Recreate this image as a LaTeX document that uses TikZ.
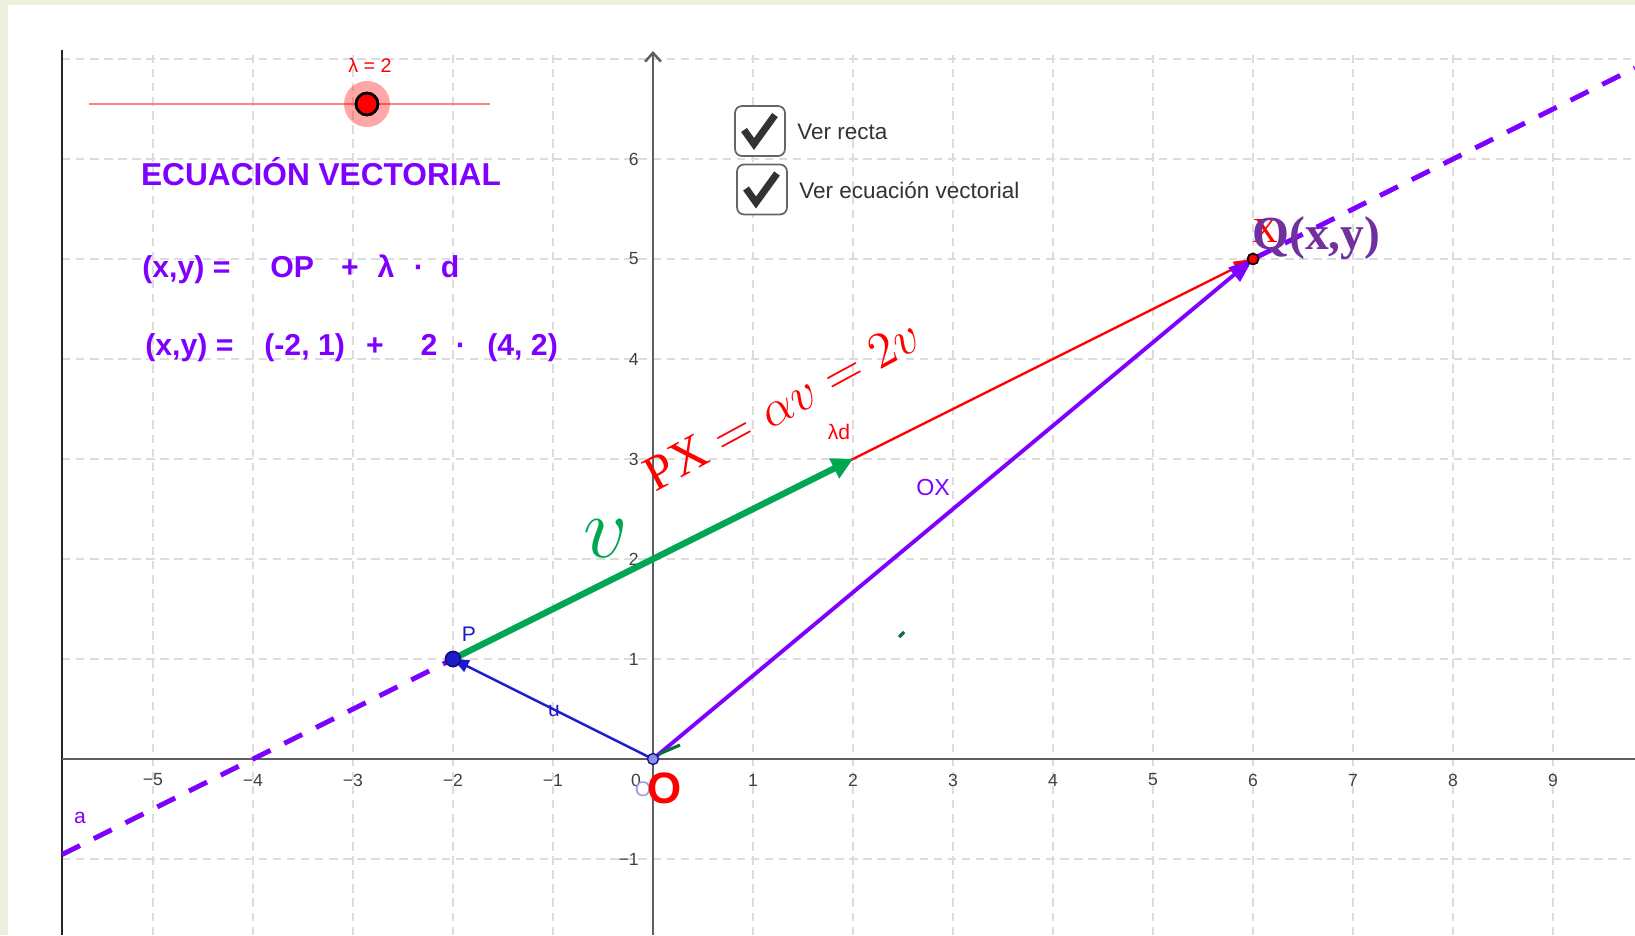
\documentclass[tikz,border=0pt]{standalone}
\usepackage{fontspec}
\setmainfont{Liberation Sans}
\newfontfamily\serifQ{Liberation Serif}
\usetikzlibrary{arrows.meta}

\definecolor{ggbviolet}{RGB}{127,0,255}
\definecolor{ggbblue}{RGB}{28,28,205}
\definecolor{ggbgreen}{RGB}{0,166,80}
\definecolor{ggbred}{RGB}{255,0,0}
\definecolor{qpurple}{RGB}{112,48,160}
\definecolor{axisgray}{RGB}{95,95,95}
\definecolor{gridgray}{RGB}{220,220,220}
\definecolor{framegreen}{RGB}{236,241,222}
\definecolor{sliderred}{RGB}{255,130,130}

\tikzset{every picture/.style={line width=0.75pt}}
\tikzset{
  gridline/.style={draw=gridgray, line width=0.45pt, dash pattern=on 2.4pt off 1.6pt},
  axisline/.style={draw=axisgray, line width=0.7pt},
  ticklbl/.style={inner sep=0pt, text=black!75, font=\fontsize{5}{6}\selectfont},
  eqtext/.style={inner sep=0pt, anchor=base, text=ggbviolet, font=\fontsize{8.6}{10}\selectfont\bfseries},
  chkbox/.style={draw=black!60, line width=0.5pt, fill=white, rounded corners=2pt, minimum size=0.5cm, inner sep=0pt},
  chkmark/.style={draw=black!80, line width=2pt, line join=miter},
  chklbl/.style={anchor=west, inner sep=0pt, text=black!80, font=\fontsize{6.4}{7.5}\selectfont},
  ptlbl/.style={inner sep=0pt, font=\fontsize{6}{7}\selectfont},
  linea/.style={ggbviolet, line width=1.4pt, dash pattern=on 5.7pt off 4.4pt},
}

\begin{document}
\begin{tikzpicture}[x=1cm,y=1cm]
\useasboundingbox (-6.53,-1.76) rectangle (9.82,7.59);

%Shape: Frame
\fill[framegreen] (-6.53,-1.76) rectangle (9.82,7.59);
\fill[white] (-6.45,-1.76) rectangle (9.82,7.54);

%Grid
\draw[gridline] (-5.91,-1.76) grid (9.82,7.09);

%Straight Lines: view border and axes
\draw[draw=black!85, line width=0.6pt] (-5.91,-1.76) -- (-5.91,7.09);
\draw[axisline] (-5.91,0) -- (9.82,0);
\draw[axisline, -{Straight Barb[length=2.5pt,width=4.5pt]}] (0,-1.76) -- (0,7.08);

% Tick labels
\foreach \x in {1,...,5} \node[ticklbl] (xm\x) at (-\x,-0.21) {−\x};
\foreach \x in {1,...,9} \node[ticklbl] (xp\x) at (\x,-0.21) {\x};
\node[ticklbl] (xz) at (-0.17,-0.21) {0};
\foreach \y in {1,...,6} \node[ticklbl, anchor=east] (yp\y) at (-0.13,\y) {\y};
\node[ticklbl, anchor=east] (ym1) at (-0.13,-1) {−1};

% Points
\coordinate (O) at (0,0);
\coordinate (P) at (-2,1);
\coordinate (L) at (2,3);
\coordinate (Q) at (6,5);
\coordinate (aL) at (-5.91,-0.955);
\coordinate (aR) at (9.82,6.91);

%Straight Lines: line a
\draw[linea] (aL) -- (P);
\draw[linea] (Q) -- (aR);

%Vectors
\draw[ggbred, line width=0.65pt, -{Triangle[length=5.5pt,width=3.6pt]}] (P) -- (Q);
\draw[ggbviolet, line width=1.1pt, -{Triangle[length=7pt,width=5pt]}] (O) -- (Q);
\draw[ggbblue, line width=0.7pt, -{Triangle[length=4.5pt,width=3.6pt]}] (O) -- (P);
\draw[ggbgreen, line width=1.8pt, -{Triangle[length=6pt,width=6pt]}] (P) -- (L);

% small green marks
\draw[ggbgreen!70!black, line width=0.9pt] (0.06,0.05) -- (0.27,0.14);
\draw[ggbgreen!70!black, line width=0.9pt] (2.46,1.22) -- (2.51,1.27);

% Point markers
\fill[ggbblue, draw=ggbblue!60!black, line width=0.5pt] (P) circle (0.075);
\fill[ggbblue!50!white, draw=ggbblue!70!black, line width=0.4pt] (O) circle (0.055);
\fill[ggbred, draw=black, line width=0.5pt] (Q) circle (0.055);

% Slider
\draw[sliderred, line width=0.5pt] (-5.64,6.55) -- (-1.63,6.55);
\fill[ggbred, opacity=0.35] (-2.86,6.55) circle (0.23);
\fill[ggbred, draw=black, line width=0.8pt] (-2.86,6.55) circle (0.11);
\node[inner sep=0pt, text=ggbred, font=\fontsize{5.6}{7}\selectfont] (lamlbl) at (-2.83,6.94) {λ = 2};

% Text Node
\node[inner sep=0pt, text=ggbviolet, font=\fontsize{9}{11}\selectfont\bfseries] (title) at (-3.32,5.87) {ECUACIÓN VECTORIAL};

% Equation one
\node[eqtext, anchor=base west] (eqa) at (-5.12,4.81) {(x,y) =};
\node[eqtext, anchor=base west] (eqb) at (-3.84,4.81) {OP};
\node[eqtext] (eqc) at (-3.03,4.81) {+};
\node[eqtext] (eqd) at (-2.67,4.81) {λ};
\node[eqtext] (eqe) at (-2.34,4.81) {·};
\node[eqtext] (eqf) at (-2.03,4.81) {d};
% Equation two
\node[eqtext, anchor=base west] (eqg) at (-5.09,4.03) {(x,y) =};
\node[eqtext, anchor=base west] (eqh) at (-3.90,4.03) {(-2, 1)};
\node[eqtext] (eqi) at (-2.78,4.03) {+};
\node[eqtext] (eqj) at (-2.24,4.03) {2};
\node[eqtext] (eqk) at (-1.92,4.03) {·};
\node[eqtext, anchor=base west] (eql) at (-1.67,4.03) {(4, 2)};

% Check boxes
\node[chkbox] (chka) at (1.07,6.28) {};
\draw[chkmark, shift={(chka.center)}] (-0.16,0.01) -- (-0.06,-0.13) -- (0.15,0.16);
\node[chklbl] (chkalbl) at (1.43,6.27) {Ver recta};
\node[chkbox] (chkb) at (1.09,5.695) {};
\draw[chkmark, shift={(chkb.center)}] (-0.16,0.01) -- (-0.06,-0.13) -- (0.15,0.16);
\node[chklbl] (chkblbl) at (1.45,5.69) {Ver ecuación vectorial};

% Labels of points and vectors
\node[ptlbl, text=ggbblue] (Plbl) at (-1.84,1.25) {P};
\node[ptlbl, text=ggbblue] (ulbl) at (-0.99,0.48) {u};
\node[ptlbl, text=ggbred] (ldlbl) at (1.86,3.27) {λd};
\node[ptlbl, text=ggbviolet, font=\fontsize{6.6}{8}\selectfont] (oxlbl) at (2.8,2.71) {OX};
\node[ptlbl, text=ggbviolet] (albl) at (-5.73,-0.59) {a};
\node[ptlbl, text=ggbblue!45!white] (Osmall) at (-0.1,-0.3) {O};
\node[inner sep=0pt, text=ggbred, font=\fontsize{12.5}{14}\selectfont\bfseries] (Olbl) at (0.12,-0.29) {O};

% Big labels
\node[inner sep=0pt, text=ggbgreen, font=\fontsize{28}{30}\selectfont] (vlbl) at (-0.47,2.2) {$v$};
\node[inner sep=0pt, text=ggbred, rotate=28.5, font=\fontsize{14.2}{16}\selectfont] (pxlbl) at (1.29,3.54) {{\serifQ PX} $=\alpha v=2v$};
\node[inner sep=0pt, text=ggbred, font=\fontsize{10}{12}\selectfont\serifQ] (Xlbl) at (6.12,5.28) {X};
\node[inner sep=0pt, anchor=west, text=qpurple, font=\fontsize{13.5}{15}\selectfont\serifQ\bfseries] (Qlbl) at (5.98,5.21) {Q(x,y)};

\end{tikzpicture}
\end{document}
